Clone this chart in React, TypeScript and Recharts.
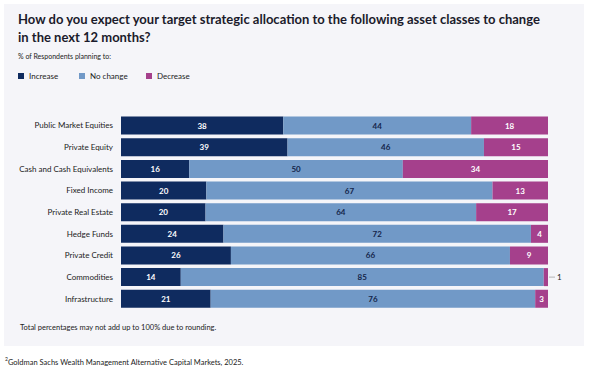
import { Bar, BarChart, LabelList, Legend, XAxis, YAxis } from "recharts";

const categories = [
  "Public Market Equities",
  "Private Equity",
  "Cash and Cash Equivalents",
  "Fixed Income",
  "Private Real Estate",
  "Hedge Funds",
  "Private Credit",
  "Commodities",
  "Infrastructure"
];
const increase = [38, 39, 16, 20, 20, 24, 26, 14, 21];
const noChange = [44, 46, 50, 67, 64, 72, 66, 85, 76];
const decrease = [18, 15, 34, 13, 17, 4, 9, 1, 3];

const data = categories.map((name, i) => ({
  name,
  increase: increase[i],
  noChange: noChange[i],
  decrease: decrease[i]
}));

const NAVY = "#0f2b5f";
const BLUE = "#7199c7";
const MAGENTA = "#a5408c";
const FONT = "Lato, 'Open Sans', sans-serif";

const legendItems = [
  { label: "Increase", color: NAVY },
  { label: "No change", color: BLUE },
  { label: "Decrease", color: MAGENTA }
];

function renderLegend() {
  return (
    <div style={{ display: "flex", fontFamily: FONT, fontSize: 8, color: "#222" }}>
      {legendItems.map((item, i) => (
        <div key={item.label} style={{ display: "flex", alignItems: "center", width: i === 0 ? 61 : 67 }}>
          <span style={{ width: 6, height: 6, background: item.color, marginRight: 5 }} />
          {item.label}
        </div>
      ))}
    </div>
  );
}

function CategoryTick(props: any) {
  const { x, y, payload } = props;
  return (
    <text x={x} y={y + 3} textAnchor="end" fontSize={8} fill="#222" fontFamily={FONT}>
      {payload.value}
    </text>
  );
}

function makeLabel(color: string) {
  return (props: any) => {
    const { x, y, width, height, value } = props;
    if (value < 2) {
      const cy = y + height / 2;
      return (
        <g>
          <line x1={x + width + 1} x2={x + width + 7} y1={cy} y2={cy} stroke="#999" strokeWidth={0.7} />
          <text x={x + width + 9} y={cy + 3} fontSize={8} fontFamily={FONT} fill="#222">
            {value}
          </text>
        </g>
      );
    }
    return (
      <text
        x={x + width / 2}
        y={y + height / 2 + 3}
        textAnchor="middle"
        fontSize={8}
        fontWeight={700}
        fontFamily={FONT}
        fill={color}
      >
        {value}
      </text>
    );
  };
}

export default function App() {
  return (
    <div style={{ position: "absolute", left: 0, top: 0, width: 602, height: 373, background: "#fff", fontFamily: FONT }}>
      <div style={{ position: "absolute", left: 4, top: 4, width: 580, height: 342, background: "#f5f5f9" }} />
      <div
        style={{
          position: "absolute",
          left: 18,
          top: 10,
          width: 560,
          fontSize: 13,
          fontWeight: 700,
          lineHeight: "18px",
          color: "#1b1b2b",
          whiteSpace: "nowrap"
        }}
      >
        How do you expect your target strategic allocation to the following asset classes to change
        <br />
        in the next 12 months?
      </div>
      <div style={{ position: "absolute", left: 18, top: 52, fontSize: 7, color: "#222" }}>
        % of Respondents planning to:
      </div>

      <div style={{ position: "absolute", left: 0, top: 0 }}>
        <BarChart
          width={602}
          height={373}
          data={data}
          layout="vertical"
          stackOffset="expand"
          barSize={18}
          margin={{ top: 104.6, right: 54, bottom: 63.6, left: 0 }}
        >
          <XAxis type="number" hide />
          <YAxis
            type="category"
            dataKey="name"
            width={121}
            tickSize={0}
            tickMargin={8}
            axisLine={false}
            tickLine={false}
            interval={0}
            tick={<CategoryTick />}
          />
          <Legend
            verticalAlign="top"
            align="left"
            content={renderLegend}
            wrapperStyle={{ position: "absolute", left: 18, top: 71, width: 250 }}
          />
          <Bar dataKey="increase" stackId="a" fill={NAVY} isAnimationActive={false}>
            <LabelList dataKey="increase" content={makeLabel("#fff")} />
          </Bar>
          <Bar dataKey="noChange" stackId="a" fill={BLUE} isAnimationActive={false}>
            <LabelList dataKey="noChange" content={makeLabel("#14254a")} />
          </Bar>
          <Bar dataKey="decrease" stackId="a" fill={MAGENTA} isAnimationActive={false}>
            <LabelList dataKey="decrease" content={makeLabel("#fff")} />
          </Bar>
        </BarChart>
      </div>

      <div style={{ position: "absolute", left: 20, top: 323, fontSize: 7.5, color: "#222" }}>
        Total percentages may not add up to 100% due to rounding.
      </div>
      <div style={{ position: "absolute", left: 5, top: 356, fontSize: 7.5, color: "#222" }}>
        <sup style={{ fontSize: 5 }}>2</sup>Goldman Sachs Wealth Management Alternative Capital Markets, 2025.
      </div>
    </div>
  );
}
